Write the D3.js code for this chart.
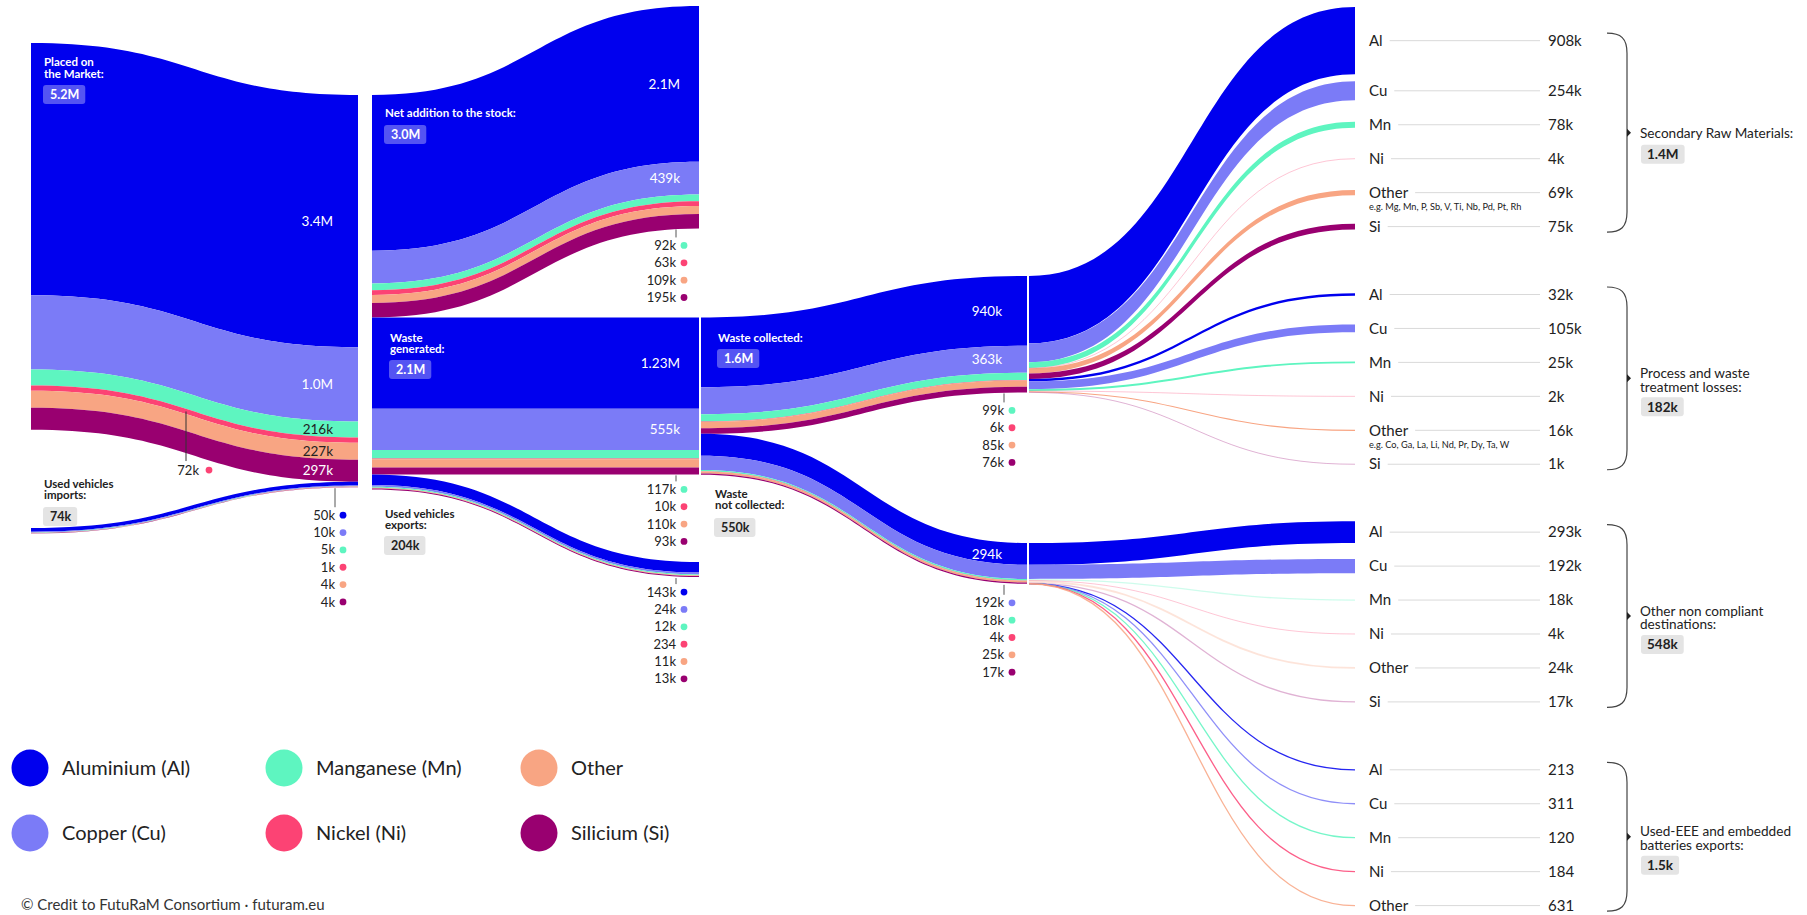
<!DOCTYPE html>
<html><head><meta charset="utf-8">
<script src="https://cdn.jsdelivr.net/npm/d3@7"></script>
<style>
html,body{margin:0;padding:0;background:#fff;}
svg{display:block;font-family:Lato,"Open Sans",sans-serif;}
</style></head><body>
<svg id="chart" width="1807" height="915"></svg>
<script>
// ---------------- DATA ----------------
const materials = ["Al","Cu","Mn","Ni","Other","Si"];
const materialNames = ["Aluminium (Al)","Copper (Cu)","Manganese (Mn)","Nickel (Ni)","Other","Silicium (Si)"];
const placedOnMarket = [3400000,1000000,216000,72000,227000,297000];
const usedVehiclesImports = [50000,10000,5000,1000,4000,4000];
const netAdditionToStock = [2100000,439000,92000,63000,109000,195000];
const wasteGenerated = [1230000,555000,117000,10000,110000,93000];
const usedVehiclesExports = [143000,24000,12000,234,11000,13000];
const wasteCollected = [940000,363000,99000,6000,85000,76000];
const wasteNotCollected = [294000,192000,18000,4000,25000,17000];
const secondaryRawMaterials = [908000,254000,78000,4000,69000,75000];
const processLosses = [32000,105000,25000,2000,16000,1000];
const otherNonCompliant = [293000,192000,18000,4000,24000,17000];
const usedEEEExports = [213,311,120,184,631];
const stageLabels = ["Placed on\nthe Market:","Used vehicles\nimports:","Net addition to the stock:","Waste\ngenerated:","Used vehicles\nexports:","Waste collected:","Waste\nnot collected:"];
const stageTotals = [5200000,74000,3000000,2100000,204000,1600000,550000];
const destinationLabels = ["Secondary Raw Materials:","Process and waste\ntreatment losses:","Other non compliant\ndestinations:","Used-EEE and embedded\nbatteries exports:"];
const destinationTotals = [1400000,182000,548000,1500];
const otherExamples = ["e.g. Mg, Mn, P, Sb, V, Ti, Nb, Pd, Pt, Rh","e.g. Co, Ga, La, Li, Nd, Pr, Dy, Ta, W",null,null];
const credit = "© Credit to FutuRaM Consortium · futuram.eu";

// ---------------- STYLE / LAYOUT ----------------
const colors = {Al:"#0000ee",Cu:"#7b7bf7",Mn:"#5ef5c0",Ni:"#fc4374",Other:"#f8a583",Si:"#990070"};
const darkText = new Set(["Mn","Other","Ni"]);
const svg = d3.select("#chart");
const thick = d3.scaleLinear().domain([0,1e6]).range([0,74.2]);
const X = {a0:31,a1:358,b0:372,b1:699,c0:701,c1:1027,d0:1029,d1:1355};
const ink = "#222";

function fmt(v){
  if(v>=1e6) return (v/1e6).toFixed(v%1e5===0?1:2)+"M";
  if(v>=1000) return (+(v/1000).toFixed(1))+"k";
  return String(v);
}
function stack(values,y0){let y=y0;return values.map((v,i)=>{const t=thick(v);const o={i,v,y,h:t,m:materials[i]};y+=t;return o;});}
function band(x0,y0,x1,y1,h0,h1){const xm=(x0+x1)/2;return `M${x0},${y0}C${xm},${y0} ${xm},${y1} ${x1},${y1}L${x1},${y1+h1}C${xm},${y1+h1} ${xm},${y0+h0} ${x0},${y0+h0}Z`;}
function curve(x0,y0,x1,y1){const xm=(x0+x1)/2;return `M${x0},${y0}C${xm},${y0} ${xm},${y1} ${x1},${y1}`;}
function yAt(x0,y0,x1,y1,x){
  let lo=0,hi=1;
  for(let k=0;k<40;k++){const t=(lo+hi)/2;const u=t*t*t+1.5*t*(1-t);if(u*(x1-x0)+x0<x)lo=t;else hi=t;}
  const t=(lo+hi)/2; return y0+(y1-y0)*(3*t*t-2*t*t*t);
}

const gFlows = svg.append("g");
const gThin = svg.append("g");
const gText = svg.append("g");

function drawStage(L,R,x0,x1){
  L.forEach((a,i)=>{
    const b=R[i];
    gFlows.append("path").attr("d",band(x0,a.y,x1,b.y,a.h,b.h)).attr("fill",colors[a.m]);
  });
}

// Stage 1
const mktL = stack(placedOnMarket,43), mktR = stack(placedOnMarket,95);
const impL = stack(usedVehiclesImports,528), impR = stack(usedVehiclesImports,95+thick(d3.sum(placedOnMarket)));
drawStage(mktL,mktR,X.a0,X.a1); drawStage(impL,impR,X.a0,X.a1);
// Stage 2
const netL = stack(netAdditionToStock,95), netR = stack(netAdditionToStock,6);
const wgY = 95+thick(d3.sum(netAdditionToStock));
const wgS = stack(wasteGenerated,wgY);
const expY = wgY+thick(d3.sum(wasteGenerated));
const expL = stack(usedVehiclesExports,expY), expR = stack(usedVehiclesExports,562);
drawStage(netL,netR,X.b0,X.b1); drawStage(wgS,wgS,X.b0,X.b1); drawStage(expL,expR,X.b0,X.b1);
// Stage 3
const colL = stack(wasteCollected,wgY), colR = stack(wasteCollected,276);
const ncY = wgY+thick(d3.sum(wasteCollected));
const ncL = stack(wasteNotCollected,ncY), ncR = stack(wasteNotCollected,543);
drawStage(colL,colR,X.c0,X.c1); drawStage(ncL,ncR,X.c0,X.c1);

// Stage 4 : destinations
const groups = [secondaryRawMaterials,processLosses,otherNonCompliant,usedEEEExports];
const slot = 33.95;
const items = [];
let prevC=null, prevH=0;
const leftY = [276, null, 543, null];
let cursor = 0;
groups.forEach((vals,g)=>{
  if(leftY[g]!==null) cursor = leftY[g];
  vals.forEach((v,i)=>{
    const hh = thick(v);
    let c;
    if(prevC===null) c = 7+hh/2;
    else if(i===0) c = prevC+2*slot;
    else c = prevC+Math.max(slot,(prevH+hh)/2+7);
    items.push({g,i,v,h:hh,c,yl:cursor,m:materials[i]});
    cursor += hh; prevC=c; prevH=hh;
  });
});
items.forEach(d=>{
  if(d.h>=2){
    gFlows.append("path").attr("d",band(X.d0,d.yl,X.d1,d.c-d.h/2,d.h,d.h)).attr("fill",colors[d.m]);
  } else {
    const op = d.g===3 ? 0.85 : (d.h<1 || d.g===2) ? 0.3 : 1;
    gThin.append("path").attr("d",curve(X.d0,d.yl+d.h/2,X.d1,d.c))
      .attr("fill","none").attr("stroke",colors[d.m])
      .attr("stroke-width",Math.max(d.h,d.g===3?1.3:1)).attr("stroke-opacity",op);
  }
});

// ---------------- inner labels and lists ----------------
function inner(R,xR,inset){
  R.filter(d=>d.h>=15).forEach(d=>{
    gText.append("text").attr("x",xR-inset).attr("y",d.y+d.h/2).attr("dy","0.35em")
      .attr("text-anchor","end").attr("font-size",13.5)
      .attr("fill",darkText.has(d.m)?ink:"#fff").text(fmt(d.v));
  });
}
function labelStage(R,xR,opt={}){
  const bottom = R[R.length-1].y+R[R.length-1].h;
  inner(R,xR,opt.inset||25);
  const list = R.filter(d=>d.h<15);
  if(!list.length) return;
  const gap = opt.gap||17;
  const tx = xR-23, dx = xR-15;
  gText.append("line").attr("x1",tx).attr("x2",tx).attr("y1",bottom+1).attr("y2",bottom+gap-8)
    .attr("stroke","#555").attr("stroke-width",1);
  list.forEach((d,j)=>{
    const y = bottom+gap+j*17.35;
    gText.append("text").attr("x",dx-8).attr("y",y).attr("dy","0.35em").attr("text-anchor","end")
      .attr("font-size",13).attr("fill",ink).text(fmt(d.v));
    gText.append("circle").attr("cx",dx).attr("cy",y).attr("r",3.4).attr("fill",colors[d.m]);
  });
}
// market: thin Ni labelled mid-way
(function(){
  const R = mktR, L = mktL;
  inner(R,X.a1,25);
  const tx = 186;
  const last = L.length-1;
  R.filter(d=>d.h<15).forEach(d=>{
    const yTop = yAt(X.a0,L[d.i].y,X.a1,d.y,tx)+d.h/2;
    const yBot = yAt(X.a0,L[last].y+L[last].h,X.a1,R[last].y+R[last].h,tx);
    gText.append("line").attr("x1",tx).attr("x2",tx).attr("y1",yTop).attr("y2",yBot+8)
      .attr("stroke","#333").attr("stroke-width",1);
    const y = yBot+17;
    gText.append("text").attr("x",tx+13).attr("y",y).attr("dy","0.35em").attr("text-anchor","end")
      .attr("font-size",13).attr("fill",ink).text(fmt(d.v));
    gText.append("circle").attr("cx",tx+23).attr("cy",y).attr("r",3.4).attr("fill",colors[d.m]);
  });
})();
labelStage(impR,X.a1,{gap:28});
labelStage(netR,X.b1,{inset:19});
labelStage(wgS,X.b1,{gap:15,inset:19});
labelStage(expR,X.b1,{gap:15,inset:19});
labelStage(colR,X.c1,{gap:18});
labelStage(ncR,X.c1,{gap:19});

// ---------------- node titles ----------------
const titlePos = [
  {x:44,y:66,lh:12,box:85,blue:true},
  {x:44,y:487.5,lh:11.6,box:507,blue:false},
  {x:385,y:117,lh:11.6,box:125,blue:true},
  {x:390,y:341.5,lh:11.6,box:360,blue:true},
  {x:385,y:517.5,lh:11.6,box:536,blue:false},
  {x:718,y:342,lh:11.6,box:349,blue:true},
  {x:715,y:497.5,lh:11.6,box:518,blue:false}
];
stageLabels.forEach((lab,k)=>{
  const p = titlePos[k];
  const col = p.blue?"#fff":ink;
  const t0 = gText.append("text").attr("x",p.x).attr("y",p.y).attr("font-size",11.5).attr("font-weight",700).attr("fill",col);
  lab.split("\n").forEach((ln,j)=>{
    t0.append("tspan").attr("x",p.x).attr("dy",j===0?0:p.lh).text(ln);
  });
  const t = gText.append("text").attr("x",p.x+6).attr("y",p.box+9.5).attr("dy","0.35em")
    .attr("font-size",12.5).attr("font-weight",700).attr("fill",col).text(fmt(stageTotals[k]));
  const w = t.node().getComputedTextLength();
  gText.insert("rect","text").attr("x",p.x-1).attr("y",p.box).attr("width",w+13).attr("height",19).attr("rx",3)
    .attr("fill",p.blue?"rgba(255,255,255,0.33)":"#e4e4e4");
});

// ---------------- destination labels ----------------
items.forEach(d=>{
  const nm = gText.append("text").attr("x",1369).attr("y",d.c).attr("dy","0.35em")
    .attr("font-size",15).attr("fill",ink);
  nm.append("tspan").text(d.m);
  const w = nm.node().getComputedTextLength();
  if(d.m==="Other" && otherExamples[d.g]){
    nm.append("tspan").attr("x",1369).attr("dy",12.5).attr("font-size",9.2).text(otherExamples[d.g]);
  }
  gText.append("line").attr("x1",1369+w+7).attr("x2",1540).attr("y1",d.c).attr("y2",d.c)
    .attr("stroke","#d9d9d9").attr("stroke-width",1);
  gText.append("text").attr("x",1548).attr("y",d.c).attr("dy","0.35em")
    .attr("font-size",15).attr("fill",ink).text(fmt(d.v));
});
// brackets
destinationLabels.forEach((lab,g)=>{
  const its = items.filter(d=>d.g===g);
  const T = its[0].c-7.5, B = its[its.length-1].c+5.5, M=(T+B)/2;
  const x0=1607, x1=1627;
  gText.append("path").attr("d",`M${x0},${T}C${x0+14},${T} ${x1},${T+5} ${x1},${T+20}L${x1},${B-20}C${x1},${B-5} ${x0+14},${B} ${x0},${B}`)
    .attr("fill","none").attr("stroke","#444").attr("stroke-width",1.2);
  gText.append("path").attr("d",`M${x1},${M-4}L${x1+4},${M}L${x1},${M+4}Z`).attr("fill","#222");
  const lines = lab.split("\n");
  const t0 = gText.append("text").attr("x",1640).attr("y",lines.length===1?M+1:M-5)
    .attr("font-size",13.6).attr("fill",ink);
  lines.forEach((ln,j)=>{ t0.append("tspan").attr("x",1640).attr("dy",j===0?"0.35em":13.6).text(ln); });
  const by = lines.length===1 ? M+12 : M+19;
  const t = gText.append("text").attr("x",1647).attr("y",by+9.5).attr("dy","0.35em")
    .attr("font-size",13.5).attr("font-weight",700).attr("fill",ink).text(fmt(destinationTotals[g]));
  const w = t.node().getComputedTextLength();
  gText.insert("rect","text").attr("x",1641).attr("y",by).attr("width",w+12).attr("height",19).attr("rx",3).attr("fill","#e4e4e4");
});

// ---------------- legend ----------------
const legCols = [30,284,539], legRows = [768,833];
materials.forEach((m,k)=>{
  const cx = legCols[Math.floor(k/2)], cy = legRows[k%2];
  svg.append("circle").attr("cx",cx).attr("cy",cy).attr("r",18.5).attr("fill",colors[m]);
  svg.append("text").attr("x",cx+32).attr("y",cy).attr("dy","0.35em").attr("font-size",20).attr("fill",ink).text(materialNames[k]);
});
svg.append("text").attr("x",21).attr("y",905).attr("dy","0.35em").attr("font-size",15).attr("fill","#333").text(credit);
</script>
</body></html>
